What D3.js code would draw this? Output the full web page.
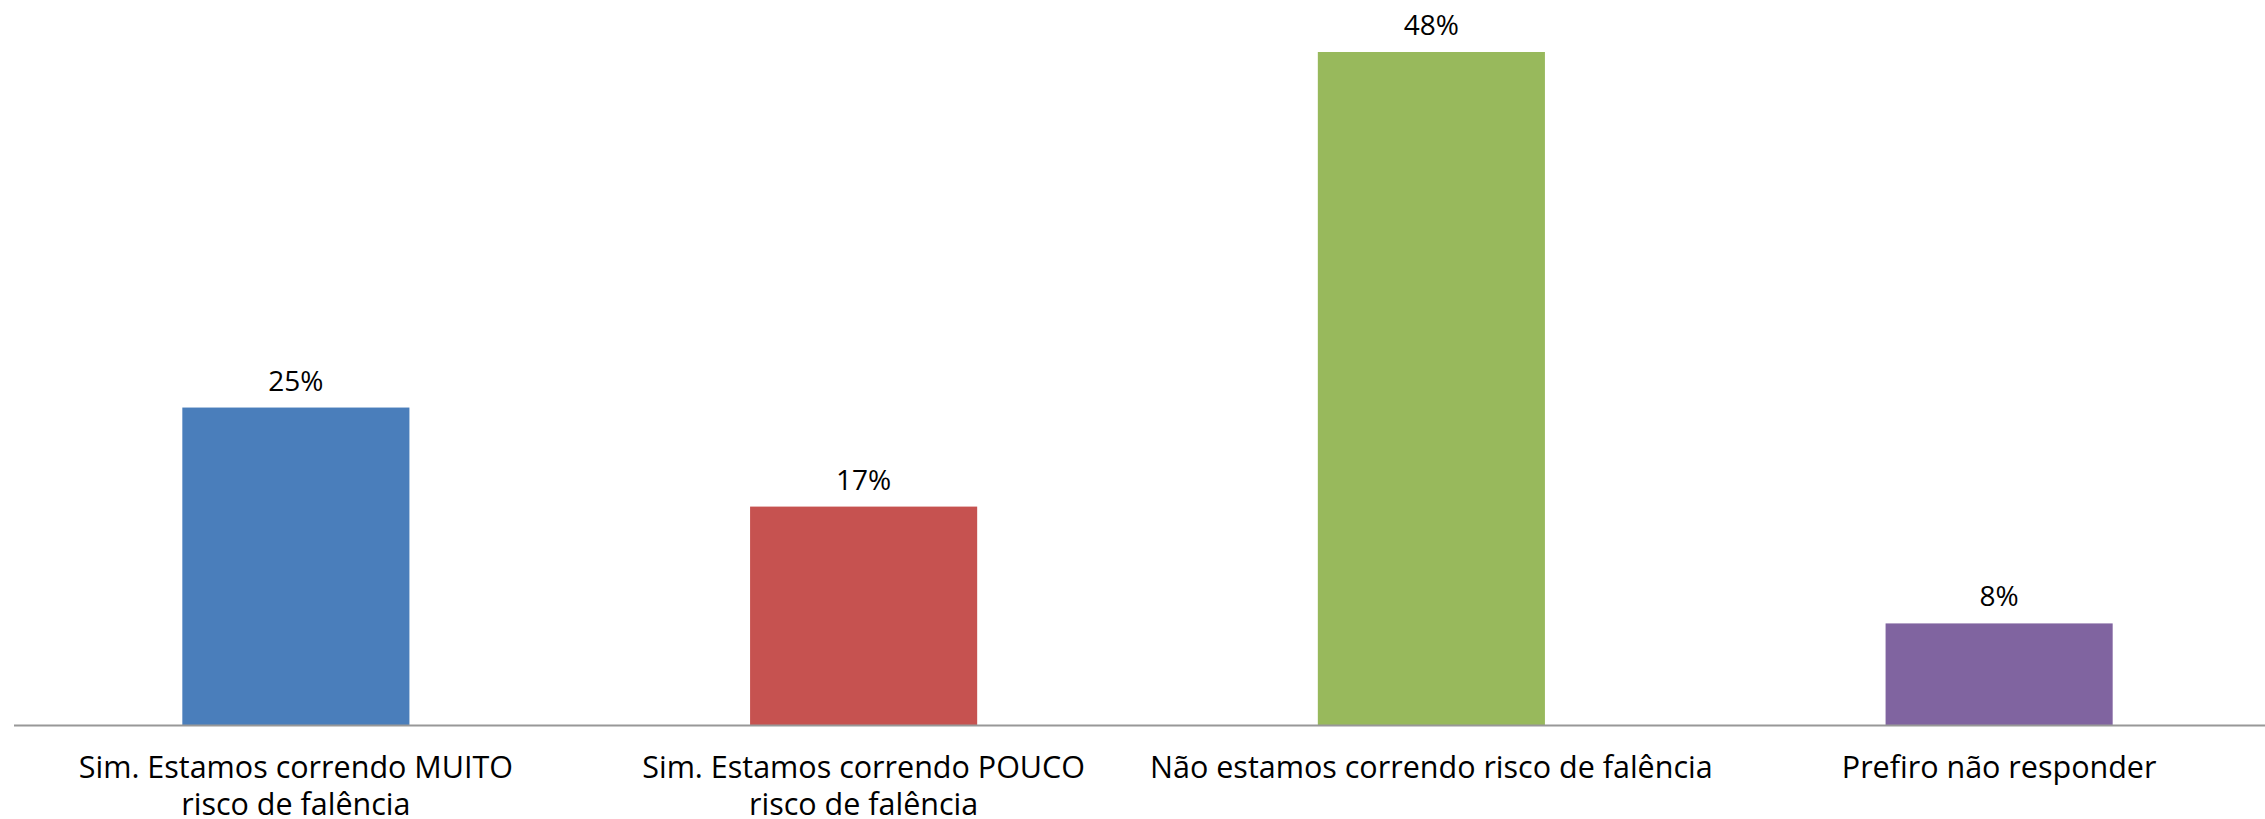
<!DOCTYPE html>
<html>
<head>
<meta charset="utf-8">
<script src="https://cdn.jsdelivr.net/npm/d3@7"></script>
<style>
  body { margin: 0; background: #fff; }
  text { font-family: "Open Sans", Lato, sans-serif; fill: #000; }
</style>
</head>
<body>
<svg width="2265" height="819"></svg>
<script>
// answers to the survey question
const categories = [
    ["Sim. Estamos correndo MUITO", "risco de falência"],
    ["Sim. Estamos correndo POUCO", "risco de falência"],
    ["Não estamos correndo risco de falência"],
    ["Prefiro não responder"]
];
// bar heights
const values = [0.25, 0.172, 0.53, 0.08];
// data labels as printed above the bars
const labels = ["25%", "17%", "48%", "8%"];
const colors = ["#4A7EBB", "#C65250", "#98B95C", "#8064A0"];

const svg = d3.select('svg');
const margin = { top: 52, left: 12, right: -18, bottom: 94 };
const width = +svg.attr('width') - margin.left - margin.right;
const height = +svg.attr('height') - margin.top - margin.bottom;

const g = svg.append("g").attr("transform", `translate(${margin.left}, ${margin.top})`);

const idx = d3.range(values.length);
const x = d3.scaleBand().domain(idx).range([0, width]).paddingInner(0.6).paddingOuter(0.3);
const y = d3.scaleLinear().domain([0, d3.max(values)]).range([height, 0]);

g.selectAll("rect.bar")
    .data(idx)
    .enter().append("rect")
    .attr("class", "bar")
    .attr("x", function (i) { return x(i); })
    .attr("y", function (i) { return y(values[i]); })
    .attr("width", x.bandwidth())
    .attr("height", function (i) { return height - y(values[i]); })
    .attr("fill", function (i) { return colors[i]; });

// baseline
g.append("line")
    .attr("x1", -margin.left + 14).attr("x2", width)
    .attr("y1", height + 0.5).attr("y2", height + 0.5)
    .attr("stroke", "#989898")
    .attr("stroke-width", 2);

g.selectAll("text.value")
    .data(idx)
    .enter().append("text")
    .attr("class", "value")
    .attr("x", function (i) { return x(i) + x.bandwidth() / 2; })
    .attr("y", function (i) { return y(values[i]) - 17; })
    .attr("text-anchor", "middle")
    .style("font-size", "28px")
    .style("font-weight", 500)
    .text(function (i) { return labels[i]; });

const cat = g.selectAll("text.cat")
    .data(idx)
    .enter().append("text")
    .attr("class", "cat")
    .attr("text-anchor", "middle")
    .attr("transform", function (i) { return `translate(${x(i) + x.bandwidth() / 2}, ${height + 53})`; })
    .style("font-size", "30.5px");

cat.selectAll("tspan")
    .data(function (i) { return categories[i]; })
    .enter().append("tspan")
    .attr("x", 0)
    .attr("y", function (d, k) { return k * 37; })
    .text(function (d) { return d; });
</script>
</body>
</html>
